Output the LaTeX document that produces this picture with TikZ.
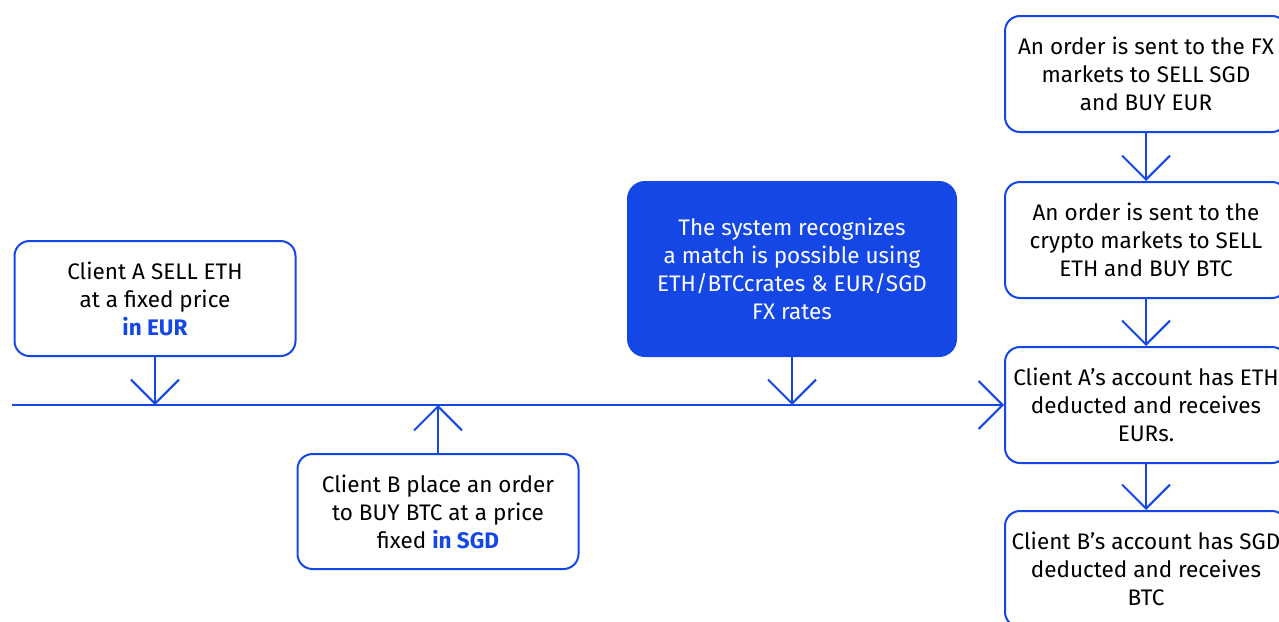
\documentclass[tikz,border=0pt]{standalone}
\usepackage{fontspec}
\setmainfont{Fira Sans}
\usetikzlibrary{arrows.meta}
\definecolor{brand}{RGB}{20,71,230}
\begin{document}
\begin{tikzpicture}[x=1pt,y=-1pt,
  every node/.style={font=\fontsize{22.5}{28}\selectfont, align=center, inner sep=0pt},
  outbox/.style={draw=brand, line width=2pt, rounded corners=15pt, fill=white},
  fillbox/.style={fill=brand, rounded corners=18pt, text=white},
  conn/.style={draw=brand, line width=2pt, -{Straight Barb[length=24pt,width=48pt,line width=2pt]}}]
\useasboundingbox (0,0) rectangle (1279,621);
\clip (0,0) rectangle (1279,621);
% left boxes
\node[outbox, minimum width=281pt, minimum height=115pt] (a) at (155,298.5)
  {Client A SELL ETH\\at a fixed price\\\textbf{\textcolor{brand}{in EUR}}};
\node[outbox, minimum width=281pt, minimum height=115pt] (b) at (438,511.5)
  {Client B place an order\\to BUY BTC at a price\\fixed \textbf{\textcolor{brand}{in SGD}}};
\node[fillbox, minimum width=330pt, minimum height=176pt] (s) at (792,269)
  {The system recognizes\\a match is possible using\\ETH/BTCcrates \& EUR/SGD\\FX rates};
% right column
\node[outbox, minimum width=282pt, minimum height=116pt] (r1) at (1146,74)
  {An order is sent to the FX\\markets to SELL SGD\\and BUY EUR};
\node[outbox, minimum width=282pt, minimum height=116pt] (r2) at (1146,240)
  {An order is sent to the\\crypto markets to SELL\\ETH and BUY BTC};
\node[outbox, minimum width=282pt, minimum height=116pt] (r3) at (1146,405)
  {Client A’s account has ETH\\deducted and receives\\EURs.};
\node[outbox, minimum width=282pt, minimum height=116pt] (r4) at (1146,569)
  {Client B’s account has SGD\\deducted and receives\\BTC};
% timeline
\coordinate (start) at (12,405);
\coordinate (pa) at (155,405);
\coordinate (pb) at (438,405);
\coordinate (ps) at (792,405);
\draw[conn] (start) -- (r3.west);
\draw[conn] (a.south) -- (pa);
\draw[conn] (b.north) -- (pb);
\draw[conn] (s.south) -- (ps);
\draw[conn] (r1.south) -- (r2.north);
\draw[conn] (r2.south) -- (r3.north);
\draw[conn] (r3.south) -- (r4.north);
\end{tikzpicture}
\end{document}
